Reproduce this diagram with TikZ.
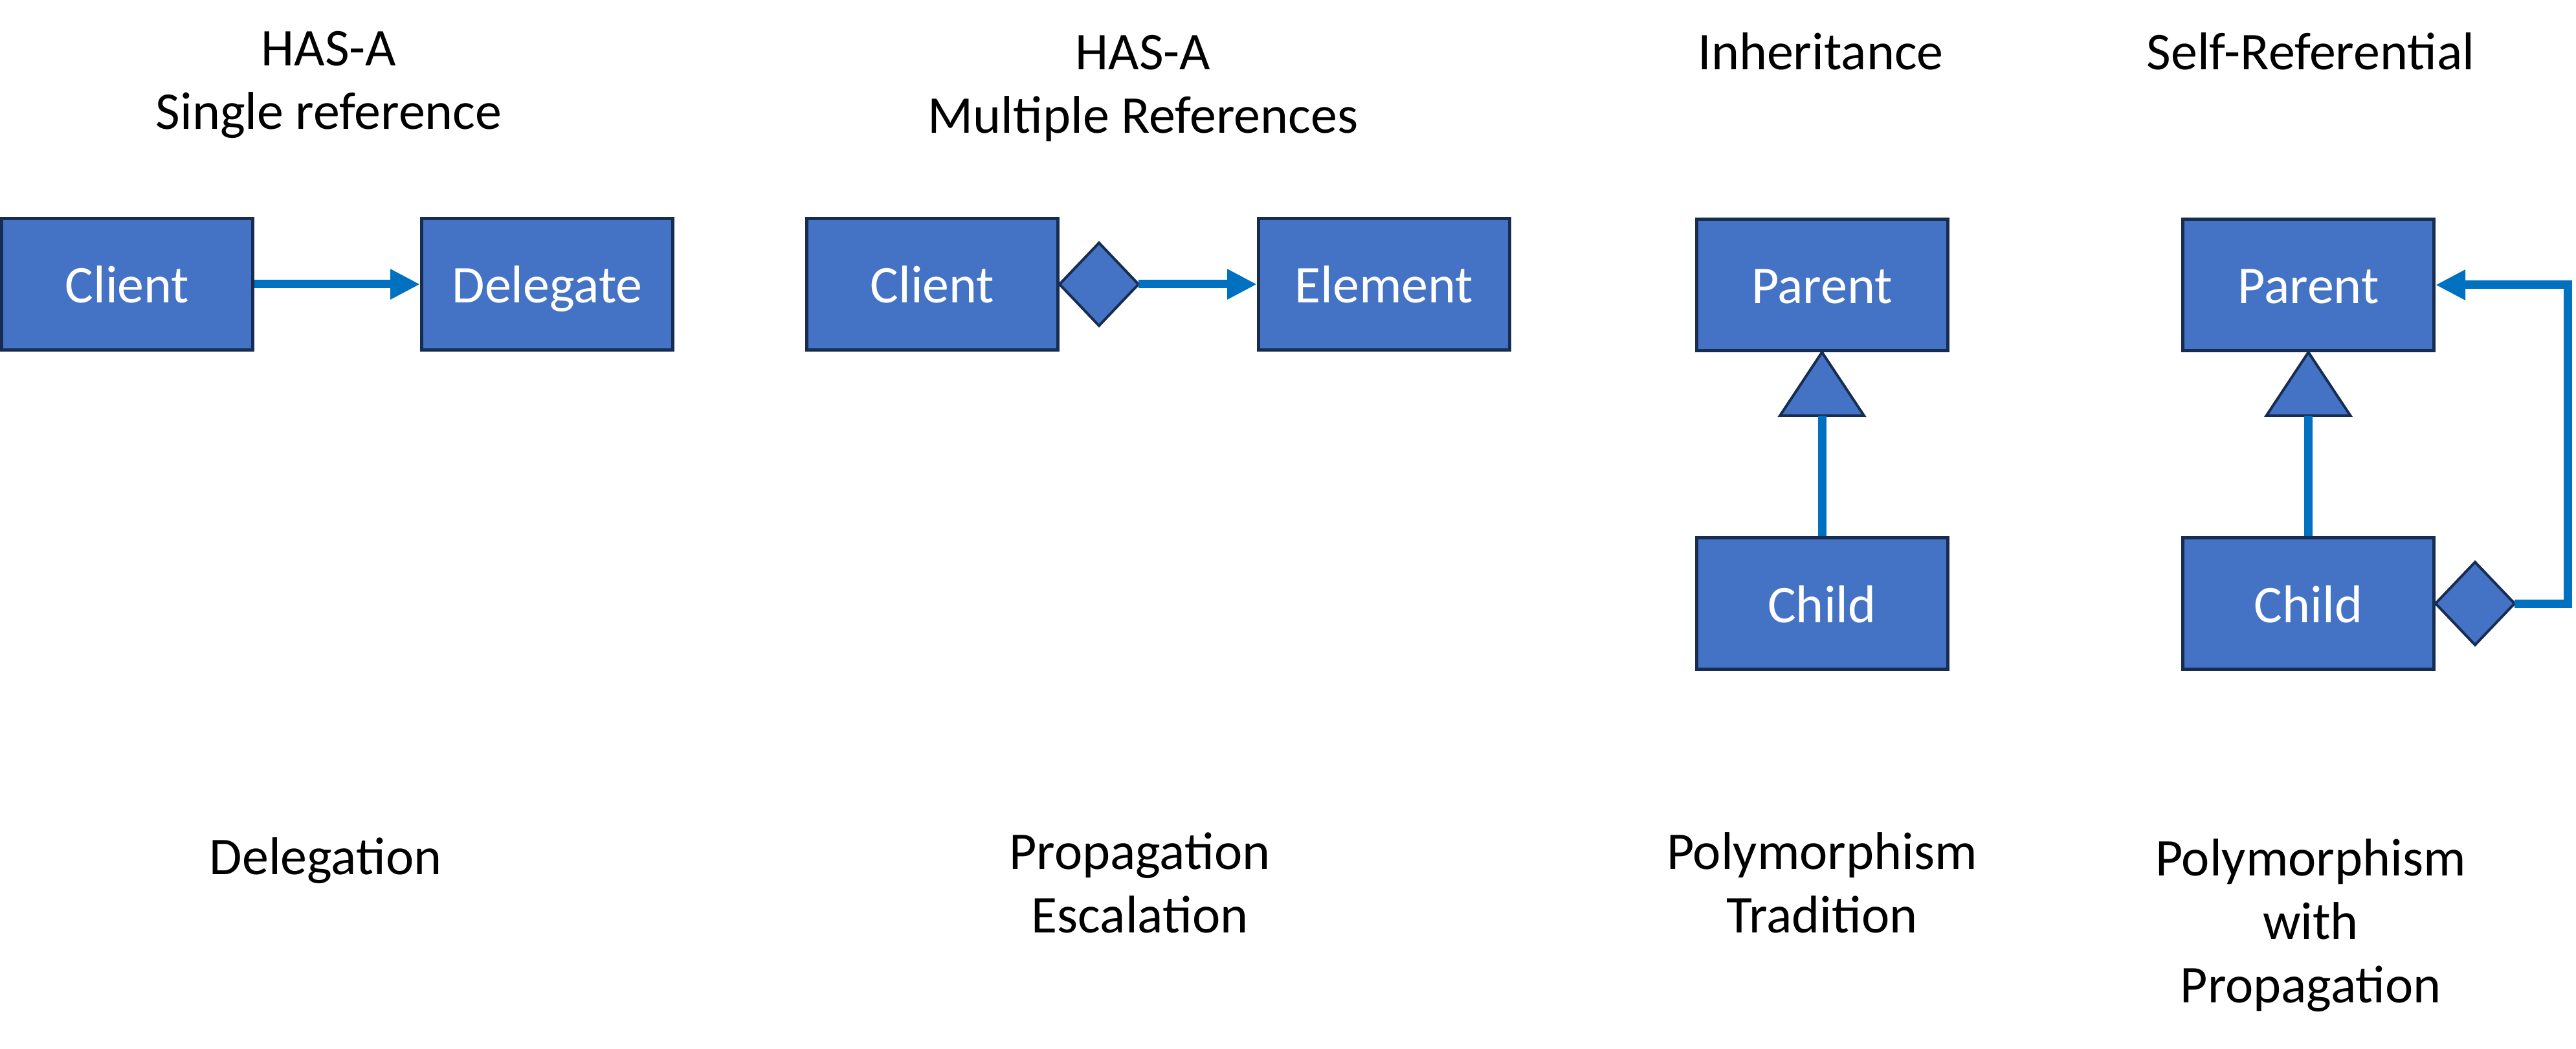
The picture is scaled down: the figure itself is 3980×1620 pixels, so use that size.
\documentclass[tikz,border=0pt]{standalone}
\usepackage{fontspec}
\setmainfont{Carlito}
\usetikzlibrary{positioning,arrows.meta,shapes.geometric}
\definecolor{boxblue}{HTML}{4472C4}
\definecolor{boxline}{HTML}{172C51}
\definecolor{linkblue}{HTML}{0070C0}

\begin{document}
\begin{tikzpicture}[x=0.5pt, y=-0.5pt,
    cls/.style={draw=boxline, line width=2.5pt, fill=boxblue, text=white, minimum width=194pt, minimum height=101.5pt, inner sep=0pt, text height=29pt, text depth=0pt, font=\fontsize{41}{49}\selectfont},
    agg/.style={diamond, draw=boxline, line width=2pt, fill=boxblue, minimum width=61pt, minimum height=64pt, inner sep=0pt, outer sep=0pt},
    gen/.style={isosceles triangle, isosceles triangle stretches, shape border rotate=90, draw=boxline, line width=2pt, fill=boxblue, minimum width=65pt, minimum height=49pt, inner sep=0pt, outer sep=0pt},
    link/.style={draw=linkblue, line width=6.5pt},
    ref/.style={link, -{Triangle[length=23pt,width=22pt]}},
    txt/.style={align=center, anchor=base, inner sep=0pt, font=\fontsize{41}{49}\selectfont}]
      \useasboundingbox (0,0) rectangle (3980,1620);

      % delegation
      \node[cls] (client1) at (196.5,439) {Client};
      \node[cls] (delegate) at (845.5,439) {Delegate};
      \draw[ref] (client1) -- (delegate);

      % propagation
      \node[cls] (client2) at (1440.5,439) {Client};
      \node[agg, right=0pt of client2] (agg1) {};
      \node[cls] (element) at (2138.5,439) {Element};
      \draw[ref] (agg1) -- (element);

      % inheritance
      \node[cls] (parent1) at (2815,440) {Parent};
      \node[cls] (child1) at (2815,932) {Child};
      \node[gen, anchor=apex] (tri1) at (parent1.south) {};
      \draw[link] (child1.north) -- (tri1.south);

      % self-referential
      \node[cls] (parent2) at (3566.5,440) {Parent};
      \node[cls] (child2) at (3566.5,932) {Child};
      \node[gen, anchor=apex] (tri2) at (parent2.south) {};
      \node[agg, right=0pt of child2] (agg2) {};
      \draw[link] (child2.north) -- (tri2.south);
      \draw[ref] (agg2.east) -- ++(82,0) |- (parent2.east);

      % base = last line
      \node[txt] (t1) at (508,200) {HAS-A\\Single reference};
      \node[txt] (t2) at (1766,206) {HAS-A\\Multiple References};
      \node[txt] (t3) at (2813,108) {Inheritance};
      \node[txt] (t4) at (3570,108) {Self-Referential};

      \node[txt] (u1) at (503,1350) {Delegation};
      \node[txt] (u2) at (1761,1440) {Propagation\\Escalation};
      \node[txt] (u3) at (2815,1440) {Polymorphism\\Tradition};
      \node[txt] (u4) at (3570,1548) {Polymorphism\\with\\Propagation};
\end{tikzpicture}
\end{document}
